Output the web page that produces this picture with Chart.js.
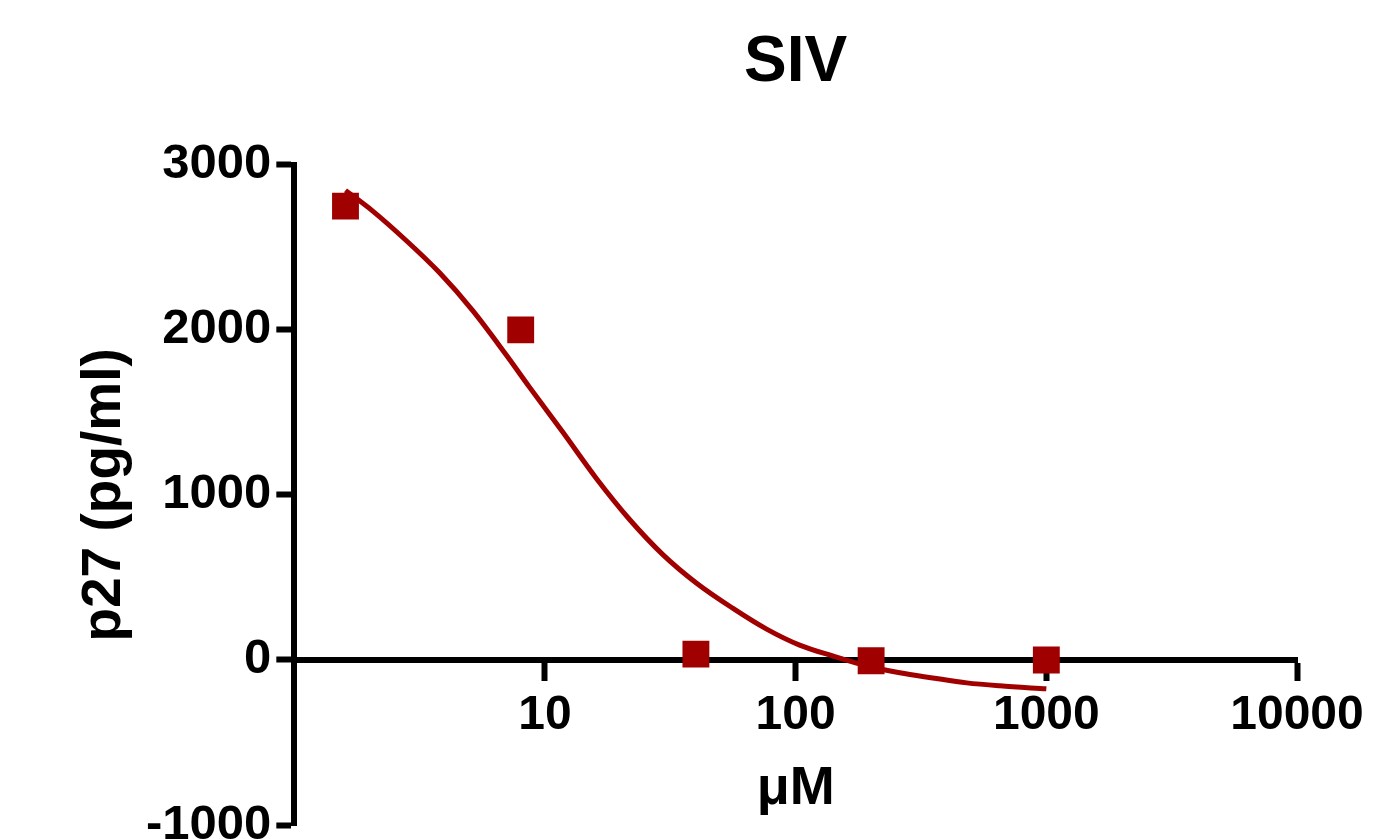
<!DOCTYPE html>
<html>
<head>
<meta charset="utf-8">
<script src="https://cdn.jsdelivr.net/npm/chart.js@4/dist/chart.umd.min.js"></script>
<style>
  html, body { margin: 0; padding: 0; background: #fff; overflow: hidden; }
  #wrap { width: 1377px; height: 870px; position: relative; }
</style>
</head>
<body>
<div id="wrap"><canvas id="sivChart"></canvas></div>
<script>
// measured points (concentration in µM, p27 in pg/ml)
const concentrations = [1.6, 8, 40, 200, 1000];
const p27Values = [2750, 2000, 35, -5, 0];

// fitted curve
const curveX = [1.6, 2.05, 2.80, 3.79, 5.14, 7.02, 8.67, 11.75, 16.06, 21.75, 29.45, 40.26, 56.04, 76.6, 103.7, 140.5, 192, 260.2, 352.3, 481.6, 652.1, 1000];
const curveY = [2845, 2721, 2540, 2347, 2118, 1846, 1653, 1382, 1098, 851, 640, 465, 314, 187, 90, 24, -36, -78, -109, -139, -157, -175];

const xTickValues = [10, 100, 1000, 10000];
const yTickValues = [-1000, 0, 1000, 2000, 3000];

const red = 'rgb(160, 0, 0)';
const fontFamily = '"Liberation Sans", Arial, Helvetica, sans-serif';

document.addEventListener('DOMContentLoaded', function() {
    const ctx = document.getElementById('sivChart').getContext('2d');

    new Chart(ctx, {
        type: 'scatter',
        data: {
            datasets: [
                {
                    label: 'fit',
                    data: curveX.map((x, i) => ({ x: x, y: curveY[i] })),
                    showLine: true,
                    borderColor: red,
                    borderWidth: 5,
                    pointRadius: 0,
                    cubicInterpolationMode: 'monotone',
                    order: 2
                },
                {
                    label: 'SIV',
                    data: concentrations.map((x, i) => ({ x: x, y: p27Values[i] })),
                    pointStyle: 'rect',
                    pointRadius: 19,
                    pointHoverRadius: 19,
                    backgroundColor: red,
                    borderColor: red,
                    borderWidth: 0,
                    order: 1
                }
            ]
        },
        options: {
            responsive: true,
            maintainAspectRatio: false,
            animation: false,
            layout: {
                padding: { left: 0, right: 80, top: 0, bottom: 45 }
            },
            scales: {
                x: {
                    type: 'logarithmic',
                    position: { y: 0 },
                    min: 1,
                    max: 10000,
                    afterBuildTicks: function(scale) {
                        scale.ticks = xTickValues.map(v => ({ value: v }));
                    },
                    ticks: {
                        color: '#000',
                        padding: 9,
                        maxRotation: 0,
                        autoSkip: false,
                        font: { family: fontFamily, size: 48, weight: 'bold' },
                        callback: function(value) { return String(value); }
                    },
                    grid: {
                        drawOnChartArea: false,
                        drawTicks: true,
                        tickLength: 18,
                        tickWidth: 6,
                        tickColor: '#000'
                    },
                    border: { display: true, color: '#000', width: 6 },
                    title: {
                        display: true,
                        text: 'μM',
                        color: '#000',
                        padding: { top: 3, bottom: 0 },
                        font: { family: fontFamily, size: 54, weight: 'bold' }
                    }
                },
                y: {
                    type: 'linear',
                    position: 'left',
                    min: -1000,
                    max: 3000,
                    afterBuildTicks: function(scale) {
                        scale.ticks = yTickValues.map(v => ({ value: v }));
                    },
                    ticks: {
                        color: '#000',
                        padding: 5,
                        font: { family: fontFamily, size: 49, weight: 'bold' },
                        callback: function(value) { return String(value); }
                    },
                    grid: {
                        drawOnChartArea: false,
                        drawTicks: true,
                        tickLength: 18,
                        tickWidth: 6,
                        tickColor: '#000'
                    },
                    border: { display: true, color: '#000', width: 6 },
                    title: {
                        display: true,
                        text: 'p27 (pg/ml)',
                        color: '#000',
                        padding: { top: 72, bottom: 3 },
                        font: { family: fontFamily, size: 55, weight: 'bold' }
                    }
                }
            },
            plugins: {
                legend: { display: false },
                tooltip: { enabled: false },
                title: {
                    display: true,
                    fullSize: false,
                    text: 'SIV',
                    color: '#000',
                    padding: { top: 25, bottom: 63 },
                    font: { family: fontFamily, size: 64, weight: 'bold' }
                }
            }
        }
    });
});
</script>
</body>
</html>
